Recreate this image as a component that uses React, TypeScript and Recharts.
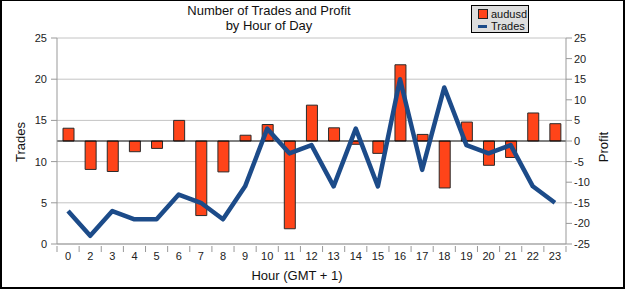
import {
  Bar,
  CartesianGrid,
  ComposedChart,
  Line,
  ReferenceLine,
  XAxis,
  YAxis,
} from "recharts";

const HOURS = ["0", "2", "3", "4", "5", "6", "7", "8", "9", "10", "11", "12", "13", "14", "15", "16", "17", "18", "19", "20", "21", "22", "23"];
const PROFIT = [3.1, -6.9, -7.4, -2.6, -1.8, 5, -18.1, -7.5, 1.4, 4, -21.3, 8.7, 3.2, -0.8, -3, 18.5, 1.6, -11.4, 4.6, -5.9, -4, 6.8, 4.2];
const TRADES = [4, 1, 4, 3, 3, 6, 5, 3, 7, 14, 11, 12, 7, 14, 7, 20, 9, 19, 12, 11, 12, 7, 5];
const TRADE_TICKS = [0, 5, 10, 15, 20, 25];
const PROFIT_TICKS = [-25, -20, -15, -10, -5, 0, 5, 10, 15, 20, 25];
const SERIES = [
  { name: "audusd", kind: "bar" },
  { name: "Trades", kind: "line" },
];

const BAR_COLOR = "#ff4419";
const LINE_COLOR = "#1c4b89";
const FONT = '"Liberation Sans", Arial, sans-serif';

const data = HOURS.map((hour, i) => ({
  hour,
  audusd: PROFIT[i],
  Trades: TRADES[i],
}));

// hour ticks sit between the bars, so the tick line is shifted half a band left
function HourTick(props: any) {
  const { x, y, payload, index } = props;
  const half = payload?.offset ?? 11;
  const last = index === HOURS.length - 1;
  return (
    <g>
      <line x1={x - half} x2={x - half} y1={y - 6} y2={y} stroke="#999" />
      {last && <line x1={x + half} x2={x + half} y1={y - 6} y2={y} stroke="#999" />}
      <text x={x} y={y + 8} textAnchor="middle" fontSize={11} fill="#222" fontFamily={FONT}>
        {payload.value}
      </text>
    </g>
  );
}

function LegendBox() {
  return (
    <div
      style={{
        position: "absolute",
        left: 471,
        top: 5,
        width: 58,
        height: 28,
        border: "1px solid #000",
        background: "#dedede",
        fontFamily: FONT,
        fontSize: 11,
        color: "#111",
        padding: "2px 0 0 6px",
        boxSizing: "border-box",
      }}
    >
      {SERIES.map((item) => (
        <div key={item.name} style={{ display: "flex", alignItems: "center", height: 12 }}>
          {item.kind === "line" ? (
            <span style={{ width: 9, height: 3, background: LINE_COLOR, marginRight: 4 }} />
          ) : (
            <span
              style={{
                width: 8,
                height: 8,
                background: BAR_COLOR,
                border: "1px solid #222",
                marginRight: 3,
              }}
            />
          )}
          {item.name}
        </div>
      ))}
    </div>
  );
}

export default function App() {
  return (
    <div style={{ position: "absolute", left: 0, top: 0, width: 625, height: 289, background: "#fff" }}>
      <ComposedChart
        width={625}
        height={289}
        data={data}
        margin={{ top: 38, right: 30, bottom: 15, left: 30 }}
        style={{ fontFamily: FONT }}
      >
        <CartesianGrid yAxisId="left" vertical={false} stroke="#c4c4c4" />
        <XAxis
          dataKey="hour"
          height={30}
          stroke="#999"
          tickLine={false}
          tick={<HourTick />}
          interval={0}
        />
        <YAxis
          yAxisId="left"
          width={27}
          domain={[0, 25]}
          ticks={TRADE_TICKS}
          stroke="#999"
          tickMargin={4}
          tick={{ fontSize: 11, fill: "#222" }}
        />
        <YAxis
          yAxisId="right"
          orientation="right"
          width={29}
          domain={[-25, 25]}
          ticks={PROFIT_TICKS}
          stroke="#999"
          tickMargin={2}
          tick={{ fontSize: 11, fill: "#222", textAnchor: "start" }}
        />
        <ReferenceLine yAxisId="right" y={0} stroke="#000" />
        <Bar
          yAxisId="right"
          dataKey="audusd"
          fill={BAR_COLOR}
          stroke="#2a2a2a"
          strokeWidth={1}
          barSize={11}
          isAnimationActive={false}
        />
        <Line
          yAxisId="left"
          dataKey="Trades"
          type="linear"
          stroke={LINE_COLOR}
          strokeWidth={4.5}
          strokeLinejoin="round"
          dot={false}
          isAnimationActive={false}
        />
      </ComposedChart>
      <LegendBox />
      <svg
        width={625}
        height={289}
        style={{ position: "absolute", left: 0, top: 0, pointerEvents: "none" }}
        fontFamily={FONT}
        fill="#111"
      >
        <text x={269} y={15} textAnchor="middle" fontSize={13}>Number of Trades and Profit</text>
        <text x={269} y={30} textAnchor="middle" fontSize={13}>by Hour of Day</text>
        <text x={297} y={280} textAnchor="middle" fontSize={13}>Hour (GMT + 1)</text>
        <text transform="translate(25,142) rotate(-90)" textAnchor="middle" fontSize={13}>Trades</text>
        <text transform="translate(608,147) rotate(-90)" textAnchor="middle" fontSize={13}>Profit</text>
      </svg>
      <div
        style={{
          position: "absolute",
          left: 0,
          top: 0,
          width: 625,
          height: 289,
          boxSizing: "border-box",
          borderStyle: "solid",
          borderColor: "#000",
          borderWidth: "1px 2px 2px 2px",
          pointerEvents: "none",
        }}
      />
    </div>
  );
}
